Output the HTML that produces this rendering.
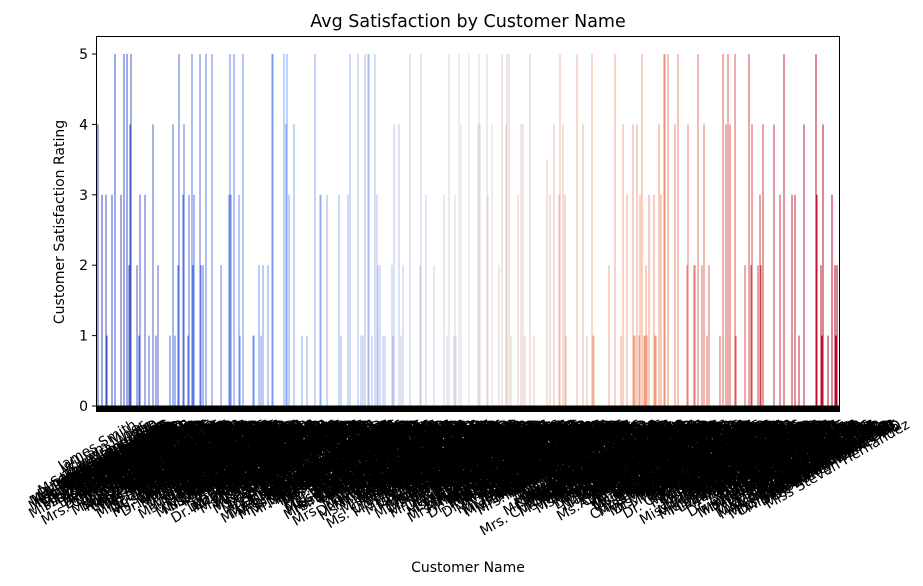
<!DOCTYPE html>
<html><head><meta charset="utf-8"><style>
body{margin:0;background:#fff;}
svg{display:block;font-family:"DejaVu Sans","Liberation Sans",sans-serif;}
</style></head><body>
<svg id="chart" width="923" height="586" viewBox="0 0 923 586">
<text x="468" y="27" font-size="17.5" text-anchor="middle">Avg Satisfaction by Customer Name</text>
<g id="bars"></g>
<g id="xticks"></g>
<g id="yaxis"></g>
<rect x="96.5" y="36.5" width="743" height="369.5" fill="none" stroke="#000" stroke-width="1"/>
<text transform="translate(64,222) rotate(-90)" font-size="14" text-anchor="middle">Customer Satisfaction Rating</text>
<text x="468" y="572" font-size="14" text-anchor="middle">Customer Name</text>
</svg>
<script>
const NCAT = 743;
const barIndex = [1,5,9,10,15,18,24,27,30,32,33,34,40,42,43,48,52,56,59,61,73,76,78,81,82,86,87,91,92,95,96,97,103,104,106,109,115,124,132,133,134,137,142,143,146,156,157,162,164,166,171,175,176,187,189,
190,192,197,205,210,218,223,224,230,242,244,251,253,261,264,266,268,271,272,275,278,280,281,283,286,288,295,296,297,302,304,306,313,323,324,329,337,347,350,352,357,358,359,362,364,372,
381,382,383,390,391,395,402,405,409,410,412,414,421,424,426,428,433,437,450,453,457,462,463,466,468,469,480,486,490,495,496,497,512,518,524,526,530,536,537,538,540,542,543,545,547,548,549,550,552,557,558,559,562,564,
567,568,571,578,581,590,591,597,598,601,605,607,610,612,623,626,629,631,633,638,639,648,652,654,655,661,663,664,666,677,683,687,695,698,702,707,719,720,724,725,726,731,735,738,739,740];
const barValue = [4,3,3,1,3,5,3,5,5,2,4,5,2,1,3,3,1,4,1,2,1,4,1,2,5,3,4,1,3,5,2,3,5,2,2,5,5,2,3,5,3,5,3,1,5,1,1,2,1,2,2,5,5,5,4,
5,3,4,1,1,5,3,3,3,3,1,3,5,5,1,1,5,5,5,1,5,3,2,2,1,1,2,1,4,4,1,2,5,2,5,3,2,3,1,5,1,3,1,5,4,5,
4,5,4,5,3,4,2,5,4,5,5,1,3,4,4,1,5,1,3.5,3,4,3,5,4,3,1,5,4,1,5,1,1,2,5,1,4,3,4,1,1,4,1,3,5,1,1,2,1,3,3,1,1,4,3,
5,5,5,4,5,2,4,2,2,5,2,4,1,2,1,5,4,5,4,5,1,2,5,2,4,2,3,2,4,4,3,5,3,3,1,4,5,3,2,1,4,1,3,2,1,2];
const yTicks = [0,1,2,3,4,5];
const firstNames = ["James","Mary","Robert","Patricia","John","Jennifer","Michael","Linda","David","Elizabeth","William","Barbara","Richard","Susan","Joseph","Jessica","Thomas","Sarah","Christopher","Karen","Daniel","Nancy","Matthew","Heather","Anthony","Betty","Mark","Sandra","Steven","Ashley","Kevin","Kimberly"];
const lastNames = ["Smith","Johnson","Williams","Brown","Jones","Garcia","Miller","Davis","Rodriguez","Martinez","Hernandez","Lopez","Gonzalez","Wilson","Anderson","Thomas","Taylor","Moore","Jackson","Martin","Lee","Perez","Thompson","White","Harris","Sanchez","Clark","Lewis","Robinson","Walker"];
const prefixes = ["","Mr. ","Mrs. ","Ms. ","Dr. ","Miss ",""];
const suffixes = [""," MD",""," DDS",""," Jr.",""," PhD",""];

const X0=96.5, X1=839.5, Y0=406, Y5=54;
const x = i => X0 + (i + 0.5) * (X1 - X0) / NCAT;
const y = v => Y0 - v * (Y0 - Y5) / 5;
const NS="http://www.w3.org/2000/svg";
function coolwarm(t){
  const s=[[59,76,192],[124,159,249],[221,221,221],[244,154,123],[180,4,38]];
  const p=t*4, k=Math.min(3,Math.floor(p)), f=p-k;
  const c=s[k].map((a,j)=>Math.round(a+(s[k+1][j]-a)*f));
  return `rgb(${c[0]},${c[1]},${c[2]})`;
}
const bars=document.getElementById('bars');
barIndex.forEach((idx,j)=>{
  const r=document.createElementNS(NS,'rect');
  
  
  r.setAttribute('x',x(idx)-0.5);
  r.setAttribute('width',1);
  r.setAttribute('y',y(barValue[j]));
  r.setAttribute('height',Y0-y(barValue[j]));
  r.setAttribute('fill',coolwarm(idx/(NCAT-1)));
  bars.appendChild(r);
});
const ya=document.getElementById('yaxis');
yTicks.forEach(v=>{
  const l=document.createElementNS(NS,'line');
  
  
  l.setAttribute('x1',92);l.setAttribute('x2',96.5);
  l.setAttribute('y1',y(v));l.setAttribute('y2',y(v));
  l.setAttribute('stroke','#000');
  ya.appendChild(l);
  const t=document.createElementNS(NS,'text');
  
  
  t.setAttribute('x',88);t.setAttribute('y',y(v)+5);
  t.setAttribute('font-size','14');t.setAttribute('text-anchor','end');
  t.textContent=v;
  ya.appendChild(t);
});
const xt=document.getElementById('xticks');
const tb=document.createElementNS(NS,'rect');


tb.setAttribute('x',96);tb.setAttribute('y',406);tb.setAttribute('width',744);tb.setAttribute('height',6);
tb.setAttribute('fill','#000');
xt.appendChild(tb);
const c30=Math.cos(Math.PI/6), s30=0.5, FH=16;
for(let i=0;i<NCAT;i++){
  const name=prefixes[i%7]+firstNames[(i*7)%firstNames.length]+" "+lastNames[(i*11)%lastNames.length]+suffixes[i%9];
  const t=document.createElementNS(NS,'text');
  
  
  t.setAttribute('font-size','14');t.setAttribute('text-anchor','middle');
  t.textContent=name;
  xt.appendChild(t);
  const L=t.getComputedTextLength();
  const H=L*s30+FH*c30;
  const cx=x(i), cy=416+H/2;
  t.setAttribute('x',cx);t.setAttribute('y',cy+5);
  t.setAttribute('transform',`rotate(-30 ${cx} ${cy})`);
}
</script>
</body></html>
